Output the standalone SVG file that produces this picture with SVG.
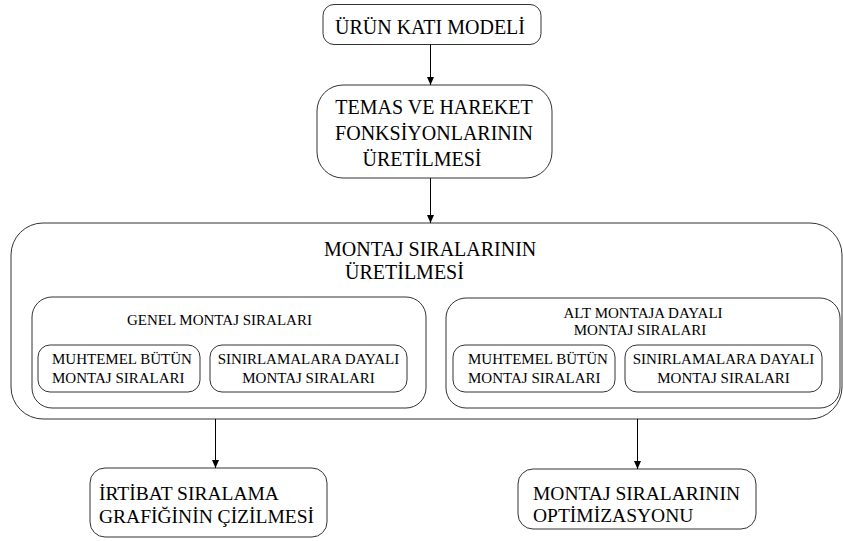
<svg xmlns="http://www.w3.org/2000/svg" width="843" height="541" viewBox="0 0 843 541">
<defs>
<style>
.box{fill:none;stroke:#333;stroke-width:1}
.l{font-size:20px}
.m{font-size:19.5px}
.s{font-size:15px}
.c{stroke:#000;stroke-width:1;fill:none}
.f{font-family:Tinos,"Liberation Serif","Times New Roman",Times,"Noto Serif","DejaVu Serif",FreeSerif,serif}
</style>
<marker id="ah" viewBox="0 0 8 14" refX="8" refY="7" markerWidth="8" markerHeight="14" markerUnits="userSpaceOnUse" orient="auto">
<path d="M0,3.5 L8,7 L0,10.5 Z" fill="#000"/>
</marker>
</defs>
<rect width="843" height="541" fill="#fff"/>
<g class="f" fill="#000">
<g id="n1">
<rect class="box" x="323" y="4.5" width="218" height="40" rx="11"/>
<text class="l" x="335" y="34">ÜRÜN KATI MODELİ</text>
</g>
<g id="n2">
<rect class="box" x="317" y="85" width="235" height="93" rx="26"/>
<text class="l" x="434" y="114" text-anchor="middle">TEMAS VE HAREKET</text>
<text class="l" x="434" y="140" text-anchor="middle">FONKSİYONLARININ</text>
<text class="l" x="422" y="166" text-anchor="middle">ÜRETİLMESİ</text>
</g>
<g id="n3">
<rect class="box" x="11" y="223" width="831" height="196" rx="32"/>
<text class="l" x="324" y="256">MONTAJ SIRALARININ</text>
<text class="l" x="345" y="279">ÜRETİLMESİ</text>
</g>
<g id="n4">
<rect class="box" x="32" y="297" width="394" height="111" rx="20"/>
<text class="s" x="127" y="325">GENEL MONTAJ SIRALARI</text>
</g>
<g id="n5">
<rect class="box" x="38" y="345" width="162" height="47" rx="12"/>
<text class="s" x="52" y="364">MUHTEMEL BÜTÜN</text>
<text class="s" x="52" y="383">MONTAJ SIRALARI</text>
</g>
<g id="n6">
<rect class="box" x="210" y="345" width="197" height="47" rx="12"/>
<text class="s" x="308.5" y="364" text-anchor="middle">SINIRLAMALARA DAYALI</text>
<text class="s" x="308.5" y="383" text-anchor="middle">MONTAJ SIRALARI</text>
</g>
<g id="n7">
<rect class="box" x="446" y="298" width="394" height="110" rx="20"/>
<text class="s" x="643" y="318" text-anchor="middle">ALT MONTAJA DAYALI</text>
<text class="s" x="640" y="335" text-anchor="middle">MONTAJ SIRALARI</text>
</g>
<g id="n8">
<rect class="box" x="453" y="345" width="162" height="47" rx="12"/>
<text class="s" x="468" y="364">MUHTEMEL BÜTÜN</text>
<text class="s" x="468" y="383">MONTAJ SIRALARI</text>
</g>
<g id="n9">
<rect class="box" x="625" y="345" width="197" height="47" rx="12"/>
<text class="s" x="723.5" y="364" text-anchor="middle">SINIRLAMALARA DAYALI</text>
<text class="s" x="723.5" y="383" text-anchor="middle">MONTAJ SIRALARI</text>
</g>
<g id="n10">
<rect class="box" x="90" y="468" width="237" height="69" rx="15"/>
<text class="m" x="99" y="500">İRTİBAT SIRALAMA</text>
<text class="m" x="99" y="523">GRAFİĞİNİN ÇİZİLMESİ</text>
</g>
<g id="n11">
<rect class="box" x="518" y="469" width="238" height="60" rx="15"/>
<text class="m" x="533" y="500">MONTAJ SIRALARININ</text>
<text class="m" x="533" y="522">OPTİMİZASYONU</text>
</g>
</g>
<g id="connectors">
<line class="c" x1="430.5" y1="44.5" x2="430.5" y2="85" marker-end="url(#ah)"/>
<line class="c" x1="430.5" y1="178" x2="430.5" y2="223" marker-end="url(#ah)"/>
<line class="c" x1="215.5" y1="419" x2="215.5" y2="468" marker-end="url(#ah)"/>
<line class="c" x1="637.5" y1="419" x2="637.5" y2="469" marker-end="url(#ah)"/>
</g>
</svg>
